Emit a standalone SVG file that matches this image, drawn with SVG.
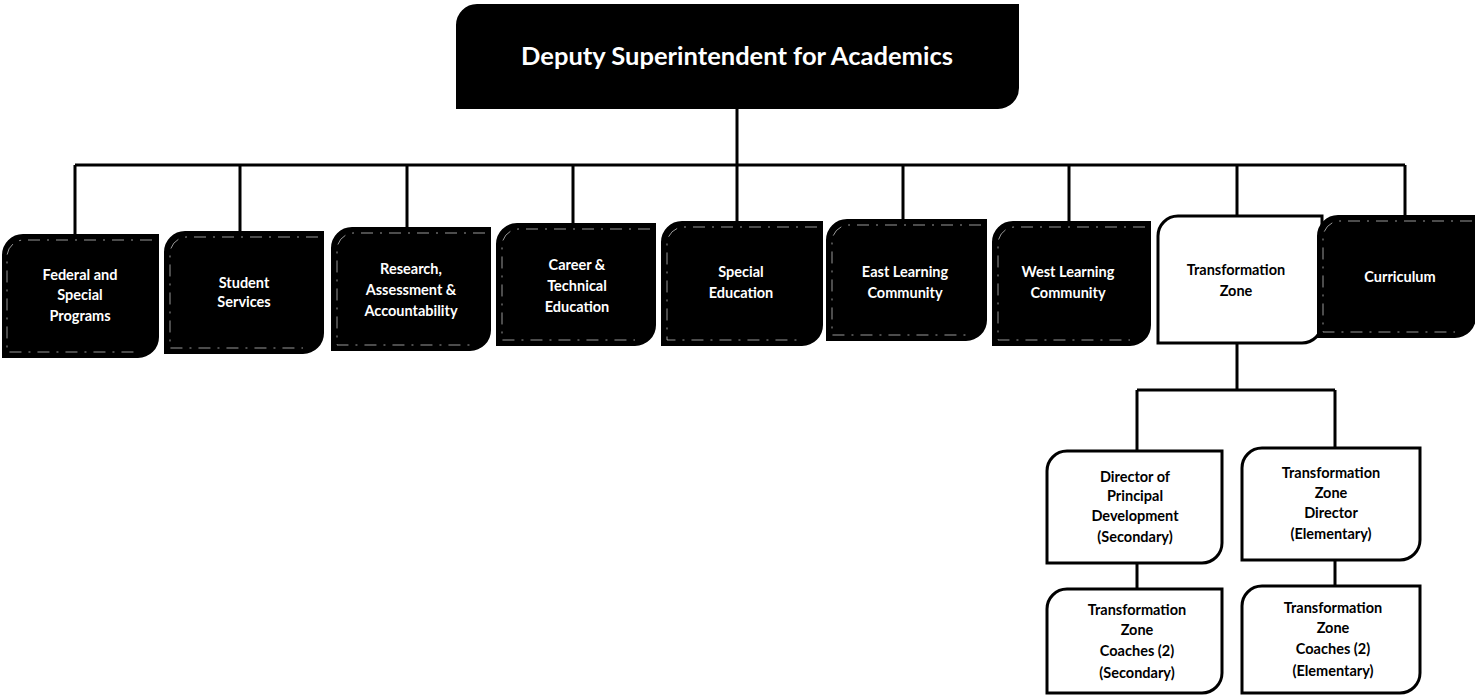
<svg xmlns="http://www.w3.org/2000/svg" width="1475" height="698" viewBox="0 0 1475 698">
<style>
.blk{fill:#000;stroke:#000;stroke-width:2}
.wht{fill:#fff;stroke:#000;stroke-width:3}
.inner{fill:none;stroke:#fff;stroke-width:0.8;stroke-opacity:0.75;stroke-dasharray:12 7 2 7}
.ln{fill:none;stroke:#000;stroke-width:3}
text{font-family:Lato,"Open Sans","Liberation Sans",sans-serif;font-weight:bold;text-anchor:middle}
.tw{fill:#fff;font-size:14.5px}
.tb{fill:#000;font-size:14.5px}
.top{fill:#fff;font-size:25.5px}
</style>
<g id="connectors">
<path class="ln" d="M737,108 V165 M75,165 H1405 M75,165 V236 M240,165 V233 M407,165 V229 M573,165 V225 M737,165 V223 M903,165 V221 M1069,165 V223 M1237,165 V216 M1405,165 V216"/>
<path class="ln" d="M1237,343 V390 M1137,390 H1335 M1137,390 V451 M1335,390 V448 M1137,563 V589 M1335,560 V586"/>
</g>
<g id="n-deputy">
<path class="blk" d="M457,108 V25 A20,20 0 0 1 477,5 H1018 V88 A20,20 0 0 1 998,108 Z"/>
<text class="top" x="737" y="65">Deputy Superintendent for Academics</text>
</g>
<g id="n-federal">
<path class="blk" d="M3,357 V255 A20,20 0 0 1 23,235 H158 V337 A20,20 0 0 1 138,357 Z"/>
<path class="inner" d="M152,240 H24 A17,17 0 0 0 7,258 V352 H138"/>
<text class="tw" x="80" y="280">Federal and</text>
<text class="tw" x="80" y="300">Special</text>
<text class="tw" x="80" y="321">Programs</text>
</g>
<g id="n-student">
<path class="blk" d="M165,353 V252 A20,20 0 0 1 185,232 H323 V333 A20,20 0 0 1 303,353 Z"/>
<path class="inner" d="M318,237 H187 A17,17 0 0 0 170,255 V348 H303"/>
<text class="tw" x="244" y="288">Student</text>
<text class="tw" x="244" y="307">Services</text>
</g>
<g id="n-research">
<path class="blk" d="M332,350 V248 A20,20 0 0 1 352,228 H490 V330 A20,20 0 0 1 470,350 Z"/>
<path class="inner" d="M485,233 H354 A17,17 0 0 0 337,251 V345 H470"/>
<text class="tw" x="411" y="274">Research,</text>
<text class="tw" x="411" y="295">Assessment &amp;</text>
<text class="tw" x="411" y="316">Accountability</text>
</g>
<g id="n-career">
<path class="blk" d="M497,345 V244 A20,20 0 0 1 517,224 H655 V325 A20,20 0 0 1 635,345 Z"/>
<path class="inner" d="M650,229 H519 A17,17 0 0 0 502,247 V340 H635"/>
<text class="tw" x="577" y="270">Career &amp;</text>
<text class="tw" x="577" y="291">Technical</text>
<text class="tw" x="577" y="312">Education</text>
</g>
<g id="n-special">
<path class="blk" d="M662,345 V242 A20,20 0 0 1 682,222 H822 V325 A20,20 0 0 1 802,345 Z"/>
<path class="inner" d="M817,227 H684 A17,17 0 0 0 667,245 V340 H802"/>
<text class="tw" x="741" y="277">Special</text>
<text class="tw" x="741" y="298">Education</text>
</g>
<g id="n-east">
<path class="blk" d="M827,340 V240 A20,20 0 0 1 847,220 H986 V320 A20,20 0 0 1 966,340 Z"/>
<path class="inner" d="M981,225 H849 A17,17 0 0 0 832,243 V335 H966"/>
<text class="tw" x="905" y="277">East Learning</text>
<text class="tw" x="905" y="298">Community</text>
</g>
<g id="n-west">
<path class="blk" d="M993,345 V242 A20,20 0 0 1 1013,222 H1150 V325 A20,20 0 0 1 1130,345 Z"/>
<path class="inner" d="M1145,227 H1015 A17,17 0 0 0 998,245 V340 H1130"/>
<text class="tw" x="1068" y="277">West Learning</text>
<text class="tw" x="1068" y="298">Community</text>
</g>
<g id="n-tz">
<path class="wht" d="M1158,343 V236 A20,20 0 0 1 1178,216 H1322 V323 A20,20 0 0 1 1302,343 Z"/>
<text class="tb" x="1236" y="275">Transformation</text>
<text class="tb" x="1236" y="296">Zone</text>
</g>
<g id="n-curriculum">
<path class="blk" d="M1318,337 V236 A20,20 0 0 1 1338,216 H1475 V317 A20,20 0 0 1 1455,337 Z"/>
<path class="inner" d="M1472,221 H1340 A17,17 0 0 0 1323,239 V332 H1455"/>
<text class="tw" x="1400" y="282">Curriculum</text>
</g>
<g id="n-dpd">
<path class="wht" d="M1047,563 V471 A20,20 0 0 1 1067,451 H1222 V543 A20,20 0 0 1 1202,563 Z"/>
<text class="tb" x="1135" y="482">Director of</text>
<text class="tb" x="1135" y="501">Principal</text>
<text class="tb" x="1135" y="521">Development</text>
<text class="tb" x="1135" y="542">(Secondary)</text>
</g>
<g id="n-tzd">
<path class="wht" d="M1242,560 V468 A20,20 0 0 1 1262,448 H1420 V540 A20,20 0 0 1 1400,560 Z"/>
<text class="tb" x="1331" y="478">Transformation</text>
<text class="tb" x="1331" y="498">Zone</text>
<text class="tb" x="1331" y="518">Director</text>
<text class="tb" x="1331" y="539">(Elementary)</text>
</g>
<g id="n-tzc-sec">
<path class="wht" d="M1047,693 V609 A20,20 0 0 1 1067,589 H1222 V673 A20,20 0 0 1 1202,693 Z"/>
<text class="tb" x="1137" y="615">Transformation</text>
<text class="tb" x="1137" y="635">Zone</text>
<text class="tb" x="1137" y="656">Coaches (2)</text>
<text class="tb" x="1137" y="678">(Secondary)</text>
</g>
<g id="n-tzc-elem">
<path class="wht" d="M1242,693 V606 A20,20 0 0 1 1262,586 H1420 V673 A20,20 0 0 1 1400,693 Z"/>
<text class="tb" x="1333" y="613">Transformation</text>
<text class="tb" x="1333" y="633">Zone</text>
<text class="tb" x="1333" y="654">Coaches (2)</text>
<text class="tb" x="1333" y="676">(Elementary)</text>
</g>
</svg>
